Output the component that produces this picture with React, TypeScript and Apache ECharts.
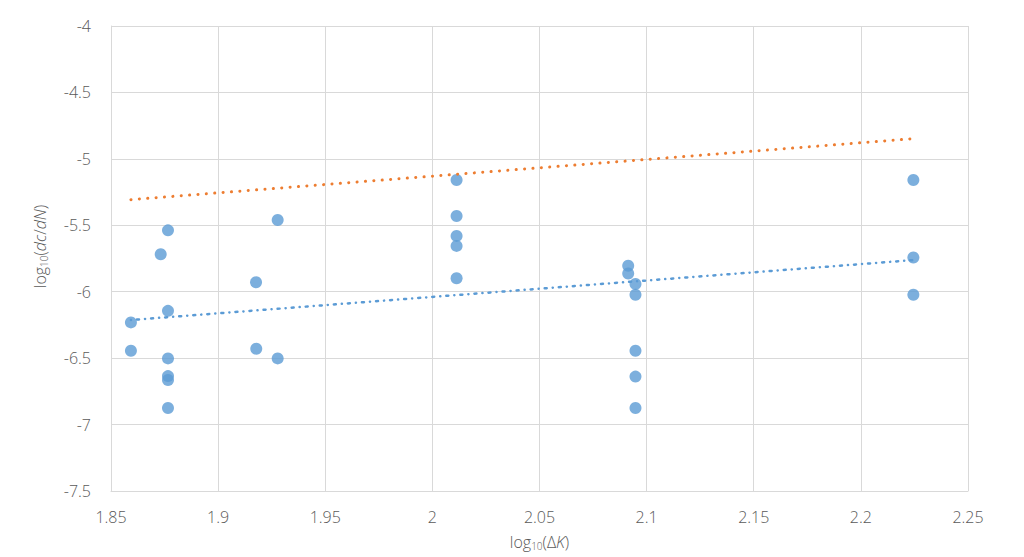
import React, { useEffect, useRef } from "react";
import * as echarts from "echarts";

const xTicks = [1.85, 1.9, 1.95, 2, 2.05, 2.1, 2.15, 2.2, 2.25];
const yTicks = [-4, -4.5, -5, -5.5, -6, -6.5, -7, -7.5];

const pointsX = [
  1.8593, 1.8593, 1.8732, 1.8766, 1.8766, 1.8766, 1.8766, 1.8766, 1.8766,
  1.9177, 1.9178, 1.9278, 1.9278,
  2.0113, 2.0113, 2.0113, 2.0113, 2.0113,
  2.0914, 2.0914, 2.0948, 2.0948, 2.0948, 2.0948, 2.0948,
  2.2245, 2.2245, 2.2245,
];
const pointsY = [
  -6.231, -6.444, -5.718, -5.538, -6.144, -6.502, -6.635, -6.665, -6.875,
  -5.929, -6.429, -5.46, -6.502,
  -5.159, -5.43, -5.58, -5.655, -5.899,
  -5.805, -5.863, -5.941, -6.023, -6.444, -6.639, -6.875,
  -5.159, -5.743, -6.023,
];

const blueTrendX = [1.8593, 2.2245];
const blueTrendY = [-6.213, -5.762];
const orangeTrendX = [1.8593, 2.2245];
const orangeTrendY = [-5.307, -4.848];

const FONT = "'Open Sans', 'Noto Sans', sans-serif";
const GRAY = "#595959";
const GRID = "#d9d9d9";

export default function App() {
  const ref = useRef<HTMLDivElement>(null);
  useEffect(() => {
    document.body.style.margin = "0";
    if (!ref.current) return;
    const chart = echarts.init(ref.current, undefined, { renderer: "svg" });
    const nameRich = {
      n: { fontSize: 16, color: GRAY, fontFamily: FONT, fontWeight: 300 },
      s: { fontSize: 10, color: GRAY, fontFamily: FONT, fontWeight: 300, verticalAlign: "bottom", padding: [8, 0, 0, 0] },
      i: { fontSize: 16, color: GRAY, fontFamily: FONT, fontWeight: 300, fontStyle: "italic" },
    };
    chart.setOption({
      animation: false,
      backgroundColor: "#ffffff",
      grid: { left: 111, right: 56, top: 26, bottom: 66, containLabel: false },
      xAxis: {
        type: "value",
        min: 1.85,
        max: 2.25,
        interval: 0.05,
        name: "{n|log}{s|10}{n|(Δ}{i|K}{n|)}",
        nameLocation: "middle",
        nameGap: 42,
        nameTextStyle: { rich: nameRich },
        axisLine: { show: true, lineStyle: { color: GRID, width: 1 } },
        axisTick: { show: false },
        splitLine: { show: true, lineStyle: { color: GRID, width: 1 } },
        axisLabel: {
          color: GRAY,
          fontSize: 16,
          fontWeight: 300,
          fontFamily: FONT,
          margin: 18,
          formatter: (v: number) => {
            const t = xTicks.find((k) => Math.abs(k - v) < 1e-6);
            return t !== undefined ? String(t) : "";
          },
        },
      },
      yAxis: {
        type: "value",
        min: -7.5,
        max: -4,
        interval: 0.5,
        name: "{n|log}{s|10}{n|(}{i|dc}{n|/}{i|dN}{n|)}",
        nameLocation: "middle",
        nameGap: 62,
        nameRotate: 90,
        nameTextStyle: { rich: nameRich, padding: [0, 0, 0, 24] },
        axisLine: { show: true, lineStyle: { color: GRID, width: 1 } },
        axisTick: { show: false },
        splitLine: { show: true, lineStyle: { color: GRID, width: 1 } },
        axisLabel: {
          color: GRAY,
          fontSize: 16,
          fontWeight: 300,
          fontFamily: FONT,
          margin: 20,
          formatter: (v: number) => {
            const t = yTicks.find((k) => Math.abs(k - v) < 1e-6);
            return t !== undefined ? String(t) : "";
          },
        },
      },
      series: [
        {
          type: "scatter",
          data: pointsX.map((x, i) => [x, pointsY[i]]),
          symbol: "circle",
          symbolSize: 12,
          itemStyle: { color: "#5b9bd5" },
          z: 2,
        },
        {
          type: "line",
          data: blueTrendX.map((x, i) => [x, blueTrendY[i]]),
          symbol: "none",
          lineStyle: { color: "#5b9bd5", width: 2.5, type: [0.1, 6, 2, 6], cap: "round" },
          z: 3,
        },
        {
          type: "line",
          data: orangeTrendX.map((x, i) => [x, orangeTrendY[i]]),
          symbol: "none",
          lineStyle: { color: "#ed7d31", width: 3, type: [0.1, 8.3], cap: "round" },
          z: 3,
        },
      ],
    });
    return () => chart.dispose();
  }, []);
  return <div ref={ref} style={{ width: 1024, height: 557 }} />;
}
